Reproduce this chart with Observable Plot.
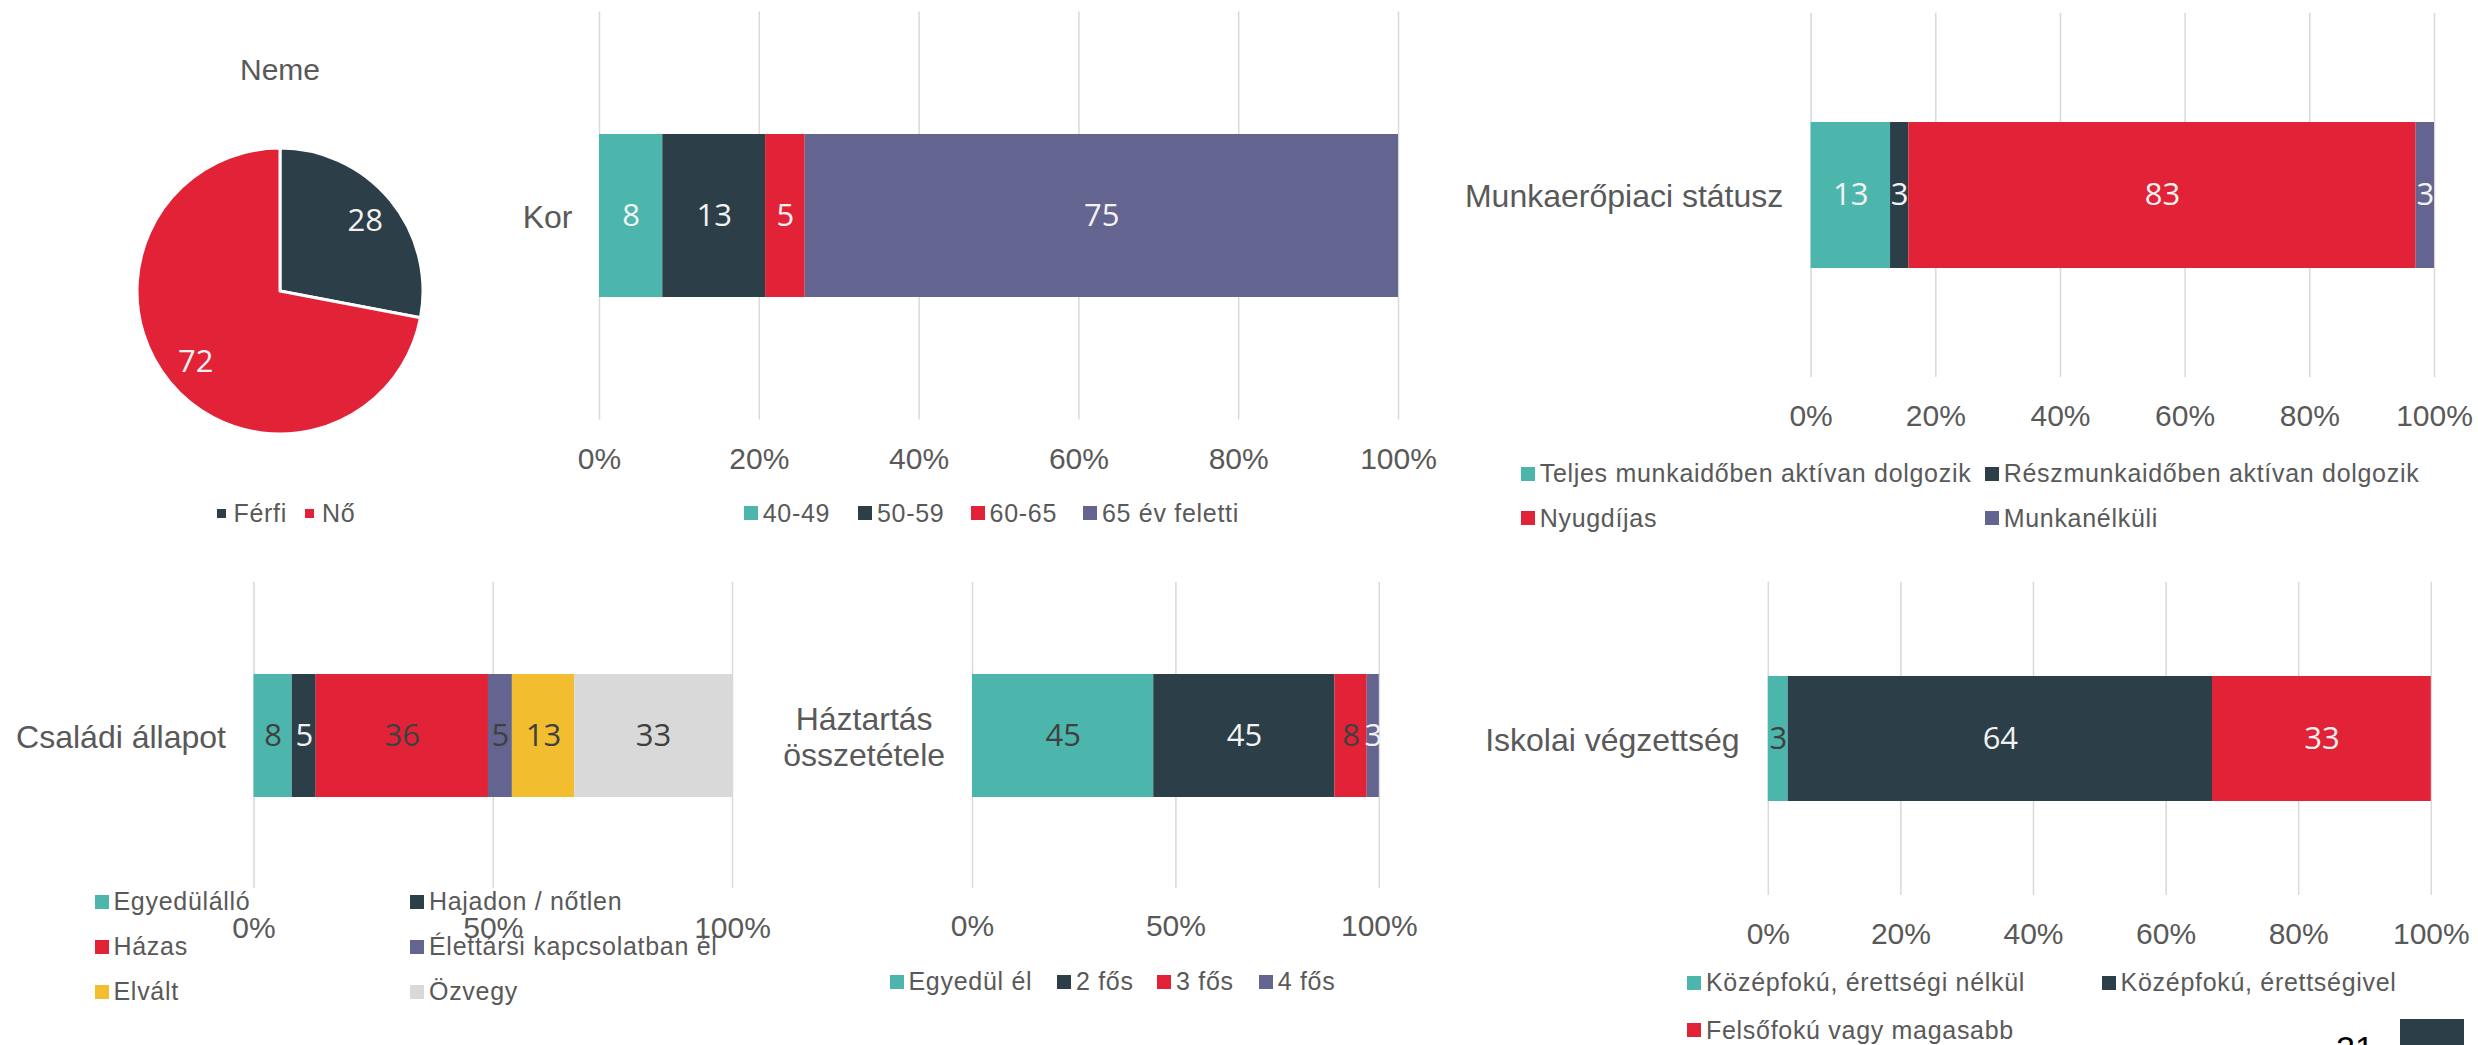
<!DOCTYPE html>
<html>
<head>
<meta charset="utf-8">
<script src="https://cdn.jsdelivr.net/npm/d3@7"></script>
<script src="https://cdn.jsdelivr.net/npm/@observablehq/plot@0.6"></script>
<style>
html, body { margin: 0; padding: 0; background: #fff; }
body { width: 2478px; height: 1045px; position: relative; overflow: hidden;
  font-family: "Liberation Sans", Arial, sans-serif; color: #595959; }
.abs { position: absolute; }
.leg { position: absolute; display: flex; align-items: center; height: 30px;
  font-size: 25px; letter-spacing: 0.7px; line-height: 1; white-space: nowrap; color: #595959; }
.sw { display: inline-block; flex: none; }
</style>
</head>
<body>
<script>
// ---------------- DATA ----------------
const nemeCategories = ["Férfi", "Nő"];
const nemeValues = [28, 72];

const korCategories = ["40-49", "50-59", "60-65", "65 év feletti"];
const korValues = [8, 13, 5, 75];

const munkaCategories = ["Teljes munkaidőben aktívan dolgozik", "Részmunkaidőben aktívan dolgozik", "Nyugdíjas", "Munkanélküli"];
const munkaValues = [13, 3, 83, 3];

const csaladiCategories = ["Egyedülálló", "Hajadon / nőtlen", "Házas", "Élettársi kapcsolatban él", "Elvált", "Özvegy"];
const csaladiValues = [8, 5, 36, 5, 13, 33];

const haztartasCategories = ["Egyedül él", "2 fős", "3 fős", "4 fős"];
const haztartasValues = [45, 45, 8, 3];

const iskolaiCategories = ["Középfokú, érettségi nélkül", "Középfokú, érettségivel", "Felsőfokú vagy magasabb"];
const iskolaiValues = [3, 64, 33];

const ticksFifths = [0, 0.2, 0.4, 0.6, 0.8, 1];
const ticksHalves = [0, 0.5, 1];

// ---------------- STYLES ----------------
const TEAL = "#4DB6AC", NAVY = "#2C3E48", RED = "#E22237", PURPLE = "#63648F", YELLOW = "#F2BD2F", GREY = "#D9D9D9";
const LIGHT = "#F2F2F2", DARK = "#404040", AXIS = "#595959", GRID = "#D9D9D9";
const LABEL_FONT = "'Open Sans', 'Noto Sans', sans-serif";
const AXIS_FONT = "'Liberation Sans', Arial, sans-serif";

// label text colour per segment (true = light text)
const korLight = [true, true, true, true];
const munkaLight = [true, true, true, true];
const csaladiLight = [false, true, false, false, false, false];
const haztartasLight = [false, true, false, true];
const iskolaiLight = [false, true, true];

function place(node, left, top) {
  const w = document.createElement("div");
  w.className = "abs";
  w.style.left = left + "px";
  w.style.top = top + "px";
  w.appendChild(node);
  document.body.appendChild(w);
}

const svgStyle = {
  background: "transparent", overflow: "visible", maxWidth: "none",
  fontFamily: AXIS_FONT, fontSize: "30px", color: AXIS
};

function stackedBar(cfg) {
  const data = cfg.categories.map((k, i) => ({group: cfg.group, key: k, value: cfg.values[i], light: cfg.light[i]}));
  const so = {x: "value", y: "group", offset: "normalize"};
  const [fx0, fx1, fy0, fy1] = cfg.frame;
  const labelOpts = {text: d => String(d.value), fontFamily: LABEL_FONT, fontSize: 31};
  const plot = Plot.plot({
    width: cfg.width, height: cfg.height,
    marginLeft: fx0 - cfg.left, marginRight: cfg.left + cfg.width - fx1,
    marginTop: fy0 - cfg.top, marginBottom: cfg.top + cfg.height - fy1,
    style: svgStyle,
    x: {domain: [0, 1], axis: null, label: null},
    y: {domain: [cfg.group], padding: 0.427, axis: null, label: null},
    color: {domain: cfg.categories, range: cfg.colors},
    marks: [
      Plot.gridX(cfg.ticks, {stroke: GRID, strokeOpacity: 1, strokeWidth: 1.5}),
      Plot.axisX(cfg.ticks, {tickSize: 0, tickPadding: cfg.tickPad, tickFormat: d3.format(".0%"), fontSize: 30, fill: AXIS, label: null}),
      Plot.barX(data, Plot.stackX({...so, fill: "key"})),
      Plot.text(data, Plot.filter(d => d.light, Plot.stackX({...so, ...labelOpts, fill: LIGHT}))),
      Plot.text(data, Plot.filter(d => !d.light, Plot.stackX({...so, ...labelOpts, fill: DARK}))),
      Plot.text([cfg.group], {
        y: d => d, text: () => cfg.label, frameAnchor: "left", dx: cfg.labelDx,
        textAnchor: cfg.labelAnchor || "end", lineHeight: 1.13, fontSize: 32, fill: AXIS, fontFamily: AXIS_FONT
      })
    ]
  });
  place(plot, cfg.left, cfg.top);
}

function legend(categories, colors, positions, size, gap) {
  categories.forEach((k, i) => {
    const [x, y] = positions[i];
    const item = document.createElement("div");
    item.className = "leg";
    item.style.left = x + "px";
    item.style.top = (y - 15) + "px";
    const sw = document.createElement("span");
    sw.className = "sw";
    sw.style.width = size + "px";
    sw.style.height = size + "px";
    sw.style.background = colors[i];
    sw.style.marginRight = gap + "px";
    const t = document.createElement("span");
    t.textContent = k;
    item.appendChild(sw);
    item.appendChild(t);
    document.body.appendChild(item);
  });
}

// ---------------- PIE (Neme) ----------------
{
  const nemeColors = [NAVY, RED];
  const nemeData = nemeCategories.map((k, i) => ({key: k, value: nemeValues[i]}));
  const arcs = d3.pie().sort(null).value(d => d.value)(nemeData);
  const labelData = arcs.map(a => {
    const m = (a.startAngle + a.endAngle) / 2;
    return {lx: 0.77 * Math.sin(m), ly: 0.77 * Math.cos(m), label: String(a.data.value)};
  });
  const pieColor = Plot.scale({color: {domain: nemeCategories, range: nemeColors}});
  const left = 0, top = 0, width = 440, height = 540;
  const cx = 280, cy = 291, r = 143;
  const pie = Plot.plot({
    width, height,
    marginLeft: cx - r - left, marginRight: left + width - (cx + r),
    marginTop: cy - r - top, marginBottom: top + height - (cy + r),
    style: svgStyle,
    x: {domain: [-1, 1], axis: null},
    y: {domain: [-1, 1], axis: null},
    marks: [
      (index, scales, values, dimensions) => {
        const X = scales.x, Y = scales.y;
        const ox = X(0), oy = Y(0), rad = X(1) - X(0);
        const g = d3.create("svg:g").attr("transform", `translate(${ox},${oy})`);
        g.selectAll("path").data(arcs).join("path")
          .attr("d", d3.arc().innerRadius(0).outerRadius(rad))
          .attr("fill", d => pieColor.apply(d.data.key))
          .attr("stroke", "#fff").attr("stroke-width", 3).attr("stroke-linejoin", "round");
        return g.node();
      },
      Plot.text(labelData, {x: "lx", y: "ly", text: "label", fill: LIGHT, fontSize: 31, fontFamily: LABEL_FONT})
    ]
  });
  place(pie, left, top);

  const title = document.createElement("div");
  title.className = "abs";
  title.textContent = "Neme";
  Object.assign(title.style, {left: "180px", width: "200px", top: "54.5px", textAlign: "center",
    fontSize: "30px", lineHeight: "30px", color: AXIS});
  document.body.appendChild(title);

  legend(nemeCategories, nemeColors, [[216.5, 513], [305, 513]], 9, 8);
}

// ---------------- Kor ----------------
const korColors = [TEAL, NAVY, RED, PURPLE];
stackedBar({
  group: "Kor", label: "Kor", categories: korCategories, values: korValues, light: korLight, colors: korColors,
  ticks: ticksFifths, left: 440, top: 0, width: 1010, height: 490,
  frame: [599, 1398, 11.4, 419.4], tickPad: 28, labelDx: -27
});
legend(korCategories, korColors, [[743.75, 513], [858, 513], [970.6, 513], [1083, 513]], 14, 5);

// ---------------- Munkaerőpiaci státusz ----------------
const munkaColors = [TEAL, NAVY, RED, PURPLE];
stackedBar({
  group: "Munkaerőpiaci státusz", label: "Munkaerőpiaci státusz", categories: munkaCategories, values: munkaValues,
  light: munkaLight, colors: munkaColors,
  ticks: ticksFifths, left: 1440, top: 0, width: 1038, height: 450,
  frame: [1810.6, 2434, 12.7, 377], tickPad: 27.3, labelDx: -27.8
});
legend(munkaCategories, munkaColors, [[1520.7, 473.5], [1984.7, 473.5], [1520.7, 518], [1984.7, 518]], 14, 5);

// ---------------- Családi állapot ----------------
const csaladiColors = [TEAL, NAVY, RED, PURPLE, YELLOW, GREY];
stackedBar({
  group: "Családi állapot", label: "Családi állapot", categories: csaladiCategories, values: csaladiValues,
  light: csaladiLight, colors: csaladiColors,
  ticks: ticksHalves, left: 0, top: 560, width: 800, height: 485,
  frame: [253.5, 732, 581.7, 888], tickPad: 28, labelDx: -28
});
legend(csaladiCategories, csaladiColors,
  [[94.5, 901.7], [410, 901.7], [94.5, 946.7], [410, 946.7], [94.5, 991.7], [410, 991.7]], 14, 5);

// ---------------- Háztartás összetétele ----------------
const haztartasColors = [TEAL, NAVY, RED, PURPLE];
stackedBar({
  group: "Háztartás összetétele", label: "Háztartás\nösszetétele", categories: haztartasCategories, values: haztartasValues,
  light: haztartasLight, colors: haztartasColors,
  ticks: ticksHalves, left: 760, top: 560, width: 700, height: 485,
  frame: [972, 1378.8, 582, 888], tickPad: 26.3, labelDx: -108.4, labelAnchor: "middle"
});
legend(haztartasCategories, haztartasColors, [[889.5, 981.7], [1056.9, 981.7], [1157, 981.7], [1258.7, 981.7]], 14, 5);

// ---------------- Iskolai végzettség ----------------
const iskolaiColors = [TEAL, NAVY, RED];
stackedBar({
  group: "Iskolai végzettség", label: "Iskolai végzettség", categories: iskolaiCategories, values: iskolaiValues,
  light: iskolaiLight, colors: iskolaiColors,
  ticks: ticksFifths, left: 1460, top: 560, width: 1018, height: 485,
  frame: [1767.8, 2430.8, 581.7, 895], tickPad: 27.6, labelDx: -28.8
});
legend(iskolaiCategories, iskolaiColors, [[1687, 982.7], [2101.6, 982.7], [1687, 1030]], 14, 5);

// ---------------- slide footer ----------------
{
  const pg = document.createElement("div");
  pg.className = "abs";
  pg.textContent = "21";
  Object.assign(pg.style, {left: "2336px", top: "1030.5px", fontSize: "34px", lineHeight: "34px", color: "#000"});
  document.body.appendChild(pg);
  const box = document.createElement("div");
  box.className = "abs";
  Object.assign(box.style, {left: "2400px", top: "1019px", width: "64px", height: "40px", background: NAVY});
  document.body.appendChild(box);
}
</script>
</body>
</html>
